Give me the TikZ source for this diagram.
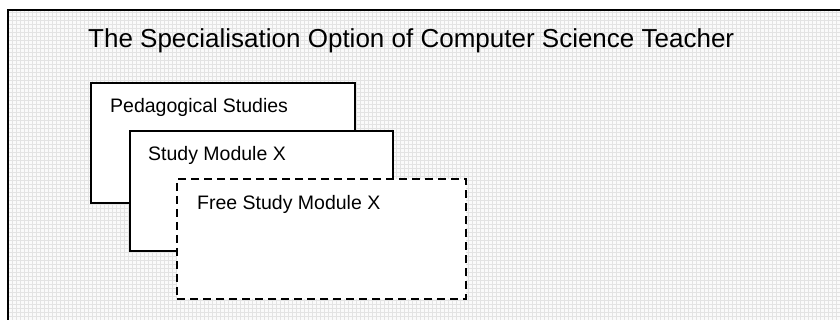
\documentclass[tikz,border=0pt]{standalone}
\usepackage{fontspec}
\setmainfont{Liberation Sans}
\usetikzlibrary{positioning}
\tikzset{
	modbox/.style={draw,line width=2pt,fill=white,minimum width=#1,minimum height=120pt,anchor=north west,inner sep=0pt},
	freebox/.style={modbox=#1,dash pattern=on 8pt off 5pt},
	modtext/.style={anchor=base west,inner sep=0pt,font=\fontsize{19.5}{22}\selectfont}
}
\begin{document}
\begin{tikzpicture}[x=1pt,y=-1pt]
	\useasboundingbox (0,0) rectangle (840,320);
	\clip (0,0) rectangle (840,320);
	% background with fine grid
	\fill[gray!4] (8,10) rectangle (850,330);
	\draw[gray!22,line width=0.4pt,step=4pt] (8,10) grid (850,330);
	\draw[line width=2.6pt] (850,10) -- (8,10) -- (8,330);
	\node[anchor=base west,inner sep=0pt,font=\fontsize{26}{30}\selectfont] (title) at (88,48) {The Specialisation Option of Computer Science Teacher};
	\node[modbox=264pt] (ped) at (90,82) {};
	\node[modtext] (pedtext) at ([xshift=20pt,yshift=-31pt]ped.north west) {Pedagogical Studies};
	\node[modbox=263pt] (smx) at (129,130) {};
	\node[modtext] (smxtext) at ([xshift=19pt,yshift=-31pt]smx.north west) {Study Module X};
	\node[freebox=289pt] (free) at (176,178) {};
	\node[modtext] (freetext) at ([xshift=21pt,yshift=-32pt]free.north west) {Free Study Module X};
\end{tikzpicture}
\end{document}
